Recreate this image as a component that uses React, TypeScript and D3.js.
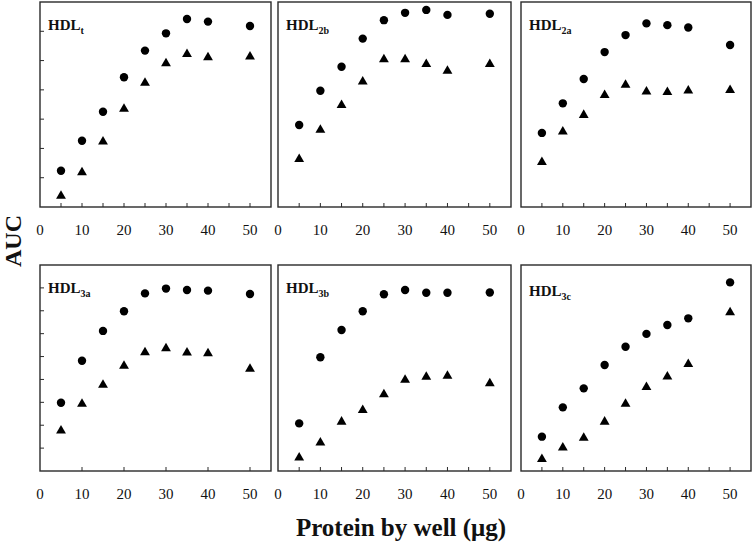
import React from "react";
import * as d3 from "d3";

const protein = [5, 10, 15, 20, 25, 30, 35, 40, 50];
const xTickLabels = [0, 10, 20, 30, 40, 50];

const panelNames = ["t", "2b", "2a", "3a", "3b", "3c"];

const circlesHDLt = [1.24, 2.26, 3.25, 4.43, 5.34, 5.93, 6.42, 6.33, 6.18];
const trianglesHDLt = [0.38, 1.18, 2.23, 3.35, 4.24, 4.9, 5.22, 5.11, 5.13];
const circlesHDL2b = [2.8, 3.97, 4.79, 5.75, 6.38, 6.63, 6.73, 6.56, 6.6];
const trianglesHDL2b = [1.63, 2.63, 3.48, 4.28, 5.04, 5.04, 4.88, 4.65, 4.88];
const circlesHDL2a = [2.53, 3.54, 4.37, 5.29, 5.87, 6.27, 6.21, 6.13, 5.53];
const trianglesHDL2a = [1.53, 2.57, 3.14, 3.82, 4.17, 3.94, 3.92, 3.97, 3.99];
const circlesHDL3a = [2.98, 4.82, 6.12, 6.98, 7.76, 7.97, 7.91, 7.88, 7.73];
const trianglesHDL3a = [1.76, 2.93, 3.76, 4.59, 5.18, 5.36, 5.17, 5.14, 4.46];
const circlesHDL3b = [2.08, 4.97, 6.16, 6.98, 7.72, 7.91, 7.79, 7.79, 7.8];
const trianglesHDL3b = [0.58, 1.24, 2.15, 2.66, 3.35, 3.98, 4.11, 4.15, 3.83];
const circlesHDL3c = [1.5, 2.78, 3.61, 4.63, 5.43, 5.99, 6.38, 6.67, 8.24];
const trianglesHDL3c = [0.52, 1.02, 1.45, 2.15, 2.93, 3.66, 4.12, 4.67, 6.93];

const circleSeries = [circlesHDLt, circlesHDL2b, circlesHDL2a, circlesHDL3a, circlesHDL3b, circlesHDL3c];
const triangleSeries = [trianglesHDLt, trianglesHDL2b, trianglesHDL2a, trianglesHDL3a, trianglesHDL3b, trianglesHDL3c];

// layout
const colX = [[40, 271], [278, 511], [521, 751]];
const rowY = [[2, 207], [265, 471]];
const rowYMax = [7, 9];

const FONT = "'Liberation Serif', 'Times New Roman', serif";

const triPath = d3.symbol().type(d3.symbolTriangle).size(42)()!;

function Panel({ idx }: { idx: number }) {
  const col = idx % 3;
  const row = Math.floor(idx / 3);
  const [x0, x1] = colX[col];
  const [y0, y1] = rowY[row];
  const x = d3.scaleLinear().domain([0, 55]).range([x0, x1]);
  const y = d3.scaleLinear().domain([0, rowYMax[row]]).range([y1, y0]);
  const minorX = idx === 3 ? d3.range(10, 55, 10) : d3.range(5, 55, 5);
  const yTicks = col === 0 ? d3.range(1, rowYMax[row]) : [];
  const labelDy = idx === 5 ? 3 : 0;
  return (
    <g>
      <rect x={x0} y={y0} width={x1 - x0} height={y1 - y0} fill="none" stroke="#2a2a2a" strokeWidth={1.4} />
      {minorX.map((t) => (
        <line key={"xt" + t} x1={x(t)} x2={x(t)} y1={y1} y2={y1 - 4} stroke="#2a2a2a" strokeWidth={1} />
      ))}
      {yTicks.map((t) => (
        <line key={"yt" + t} x1={x0} x2={x0 + 4} y1={y(t)} y2={y(t)} stroke="#2a2a2a" strokeWidth={1} />
      ))}
      {xTickLabels.map((t) => (
        <text key={"xl" + t} x={x(t)} y={y1 + 28} textAnchor="middle" fontFamily={FONT} fontSize={15} fill="#111">
          {t}
        </text>
      ))}
      <text x={x0 + 8} y={y0 + 28 + labelDy} fontFamily={FONT} fontWeight="bold" fontSize={15} fill="#111">
        HDL
        <tspan fontSize={10} dy={4}>{panelNames[idx]}</tspan>
      </text>
      {protein.map((p, i) => (
        <circle key={"c" + i} cx={x(p)} cy={y(circleSeries[idx][i])} r={4.2} fill="#000" />
      ))}
      {protein.map((p, i) => (
        <path key={"t" + i} d={triPath} transform={`translate(${x(p)},${y(triangleSeries[idx][i])})`} fill="#000" />
      ))}
    </g>
  );
}

export default function App() {
  return (
    <svg width={754} height={548} style={{ position: "absolute", left: 0, top: 0, background: "#fff" }}>
      {panelNames.map((_, i) => (
        <Panel key={i} idx={i} />
      ))}
      <text
        transform="translate(21,241) rotate(-90)"
        textAnchor="middle"
        fontFamily={FONT}
        fontWeight="bold"
        fontSize={24}
        fill="#111"
      >
        AUC
      </text>
      <text x={401} y={536} textAnchor="middle" fontFamily={FONT} fontWeight="bold" fontSize={25} fill="#111">
        Protein by well (μg)
      </text>
    </svg>
  );
}
